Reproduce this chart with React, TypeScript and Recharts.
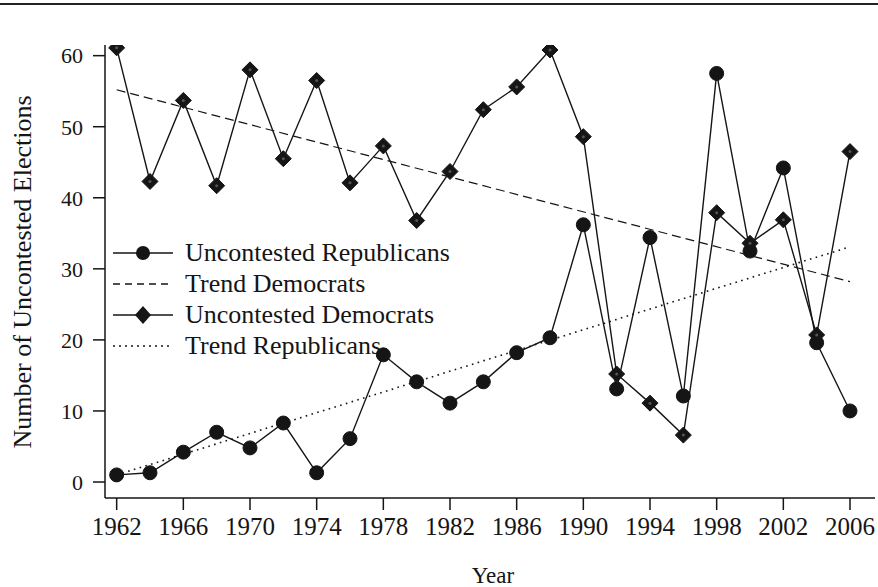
import React from 'react';
import { LineChart, Line, XAxis, YAxis } from 'recharts';

const years = [
  1962, 1964, 1966, 1968, 1970, 1972, 1974, 1976, 1978, 1980, 1982, 1984,
  1986, 1988, 1990, 1992, 1994, 1996, 1998, 2000, 2002, 2004, 2006,
];
const uncontestedRepublicans = [
  1.0, 1.3, 4.2, 7.0, 4.8, 8.3, 1.3, 6.1, 17.9, 14.1, 11.1, 14.1,
  18.2, 20.3, 36.2, 13.1, 34.4, 12.1, 57.5, 32.5, 44.2, 19.6, 10.0,
];
const uncontestedDemocrats = [
  61.1, 42.3, 53.7, 41.7, 58.0, 45.5, 56.5, 42.1, 47.3, 36.8, 43.7, 52.4,
  55.6, 60.8, 48.6, 15.2, 11.1, 6.6, 37.9, 33.6, 36.9, 20.7, 46.5,
];

// trend lines only need their two end points
const trendYears = [1962, 2006];
const trendDemocrats = [55.2, 28.2];
const trendRepublicans = [1.0, 33.1];

const xTicks = [1962, 1966, 1970, 1974, 1978, 1982, 1986, 1990, 1994, 1998, 2002, 2006];
const yTicks = [0, 10, 20, 30, 40, 50, 60];

const FONT = '"Liberation Serif", "Times New Roman", serif';
const INK = '#151515';

const seriesData = years.map((year, i) => ({
  year,
  rep: uncontestedRepublicans[i],
  dem: uncontestedDemocrats[i],
}));

const trendData = trendYears.map((year, i) => ({
  year,
  trendDem: trendDemocrats[i],
  trendRep: trendRepublicans[i],
}));

const CircleDot = (props: any) => {
  const { cx, cy, index } = props;
  if (cx == null || cy == null) return <g key={`c-${index}`} />;
  return <circle key={`c-${index}`} cx={cx} cy={cy} r={7} fill={INK} stroke={INK} />;
};

const DiamondDot = (props: any) => {
  const { cx, cy, index } = props;
  if (cx == null || cy == null) return <g key={`d-${index}`} />;
  const s = 8;
  return (
    <g key={`d-${index}`}>
      <polygon
        points={`${cx},${cy - s} ${cx + s},${cy} ${cx},${cy + s} ${cx - s},${cy}`}
        fill={INK}
        stroke={INK}
      />
      <circle cx={cx} cy={cy} r={1.5} fill="#555" />
    </g>
  );
};

const legendRows = [
  { label: 'Uncontested Republicans', dash: undefined, marker: 'circle' },
  { label: 'Trend Democrats', dash: '7 5', marker: 'none' },
  { label: 'Uncontested Democrats', dash: undefined, marker: 'diamond' },
  { label: 'Trend Republicans', dash: '2 4', marker: 'none' },
];

// legend sits inside the plot, so it is laid over the chart by hand
const ChartLegend = () => (
  <div
    style={{
      position: 'absolute',
      left: 112,
      top: 237,
      fontFamily: FONT,
      fontSize: 26,
      color: INK,
    }}
  >
    {legendRows.map((row) => (
      <div key={row.label} style={{ display: 'flex', alignItems: 'center', height: 31 }}>
        <svg width={62} height={20} style={{ marginRight: 11 }}>
          <line x1={1} y1={10} x2={61} y2={10} stroke={INK} strokeWidth={1.3} strokeDasharray={row.dash} />
          {row.marker === 'circle' && <circle cx={31} cy={10} r={7} fill={INK} />}
          {row.marker === 'diamond' && (
            <polygon points="31,1 39,10 31,19 23,10" fill={INK} />
          )}
        </svg>
        <span style={{ lineHeight: '31px', whiteSpace: 'nowrap' }}>{row.label}</span>
      </div>
    ))}
  </div>
);

const YLabel = () => (
  <text
    x={22}
    y={272}
    transform="rotate(-90 22 272)"
    textAnchor="middle"
    dominantBaseline="central"
    fontFamily={FONT}
    fontSize={26}
    fill={INK}
  >
    Number of Uncontested Elections
  </text>
);

const XLabel = () => (
  <text x={493} y={583} textAnchor="middle" fontFamily={FONT} fontSize={23} fill={INK}>
    Year
  </text>
);

export default function App() {
  return (
    <div style={{ position: 'absolute', left: 0, top: 0, width: 878, height: 587, background: '#fff' }}>
      <div style={{ position: 'absolute', left: 0, top: 3, width: 878, height: 2, background: '#222' }} />
      <LineChart
        width={878}
        height={587}
        data={seriesData}
        margin={{ top: 45, right: 3, bottom: 0, left: 0 }}
      >
        <XAxis
          type="number"
          dataKey="year"
          domain={[1961.3, 2007.5]}
          ticks={xTicks}
          interval={0}
          allowDataOverflow
          height={89}
          tickSize={12}
          tickMargin={7}
          stroke={INK}
          strokeWidth={1.5}
          tick={{ fontFamily: FONT, fontSize: 25, fill: INK }}
          label={{ content: () => <XLabel /> }}
        />
        <YAxis
          type="number"
          domain={[-2.25, 61.5]}
          ticks={yTicks}
          interval={0}
          allowDataOverflow
          width={105}
          tickSize={12}
          tickMargin={10}
          stroke={INK}
          strokeWidth={1.5}
          tick={{ fontFamily: FONT, fontSize: 22, fill: INK }}
          label={{ content: () => <YLabel /> }}
        />
        <Line
          data={trendData}
          dataKey="trendDem"
          stroke={INK}
          strokeWidth={1.2}
          strokeDasharray="9 5"
          dot={false}
          isAnimationActive={false}
        />
        <Line
          data={trendData}
          dataKey="trendRep"
          stroke={INK}
          strokeWidth={1.6}
          strokeDasharray="1.6 4.4"
          dot={false}
          isAnimationActive={false}
        />
        <Line
          dataKey="rep"
          stroke={INK}
          strokeWidth={1.4}
          dot={CircleDot}
          isAnimationActive={false}
        />
        <Line
          dataKey="dem"
          stroke={INK}
          strokeWidth={1.4}
          dot={DiamondDot}
          isAnimationActive={false}
        />
      </LineChart>
      <ChartLegend />
    </div>
  );
}
